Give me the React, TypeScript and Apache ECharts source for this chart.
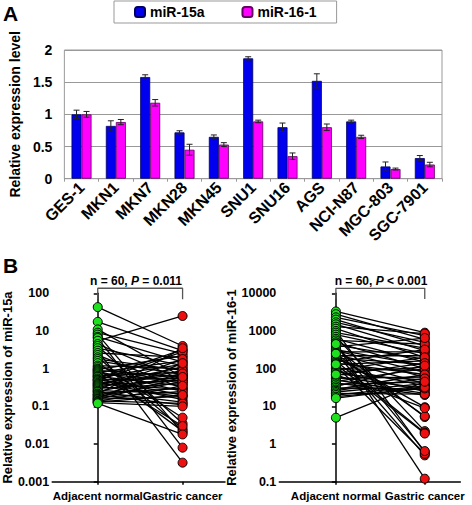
import React, { useEffect, useRef } from "react";
import * as echarts from "echarts";

const cellLines = ["GES-1", "MKN1", "MKN7", "MKN28", "MKN45", "SNU1", "SNU16", "AGS", "NCI-N87", "MGC-803", "SGC-7901"];
const miR15a = [1.0, 0.82, 1.58, 0.72, 0.65, 1.87, 0.8, 1.52, 0.89, 0.19, 0.32];
const miR15aErr = [0.065, 0.08, 0.035, 0.025, 0.03, 0.025, 0.065, 0.11, 0.02, 0.07, 0.04];
const miR161 = [1.0, 0.88, 1.18, 0.45, 0.53, 0.89, 0.35, 0.8, 0.65, 0.15, 0.22];
const miR161Err = [0.045, 0.04, 0.05, 0.085, 0.03, 0.02, 0.05, 0.05, 0.025, 0.015, 0.035];

const normal15 = [43, 17.5, 11, 9, 8, 7, 6.5, 5.5, 4.5, 4, 3.5, 3, 2.6, 2.3, 2, 1.8, 1.6, 1.4, 1.2, 1.1, 1.0, 0.95, 0.9, 0.85, 0.8, 0.75, 0.7, 0.65, 0.62, 0.6, 0.55, 0.52, 0.5, 0.48, 0.45, 0.42, 0.4, 0.38, 0.36, 0.34, 0.32, 0.3, 0.28, 0.26, 0.25, 0.24, 0.22, 0.21, 0.2, 0.19, 0.18, 0.17, 0.16, 0.155, 0.15, 0.14, 0.135, 0.13, 0.125, 0.12];
const cancer15 = [4, 3, 0.6, 2.5, 0.02, 1.5, 0.008, 25, 0.5, 0.035, 1.2, 0.0032, 2.0, 0.3, 0.025, 0.9, 0.7, 0.05, 1.0, 0.4, 0.022, 2.2, 0.6, 0.25, 1.6, 0.45, 0.03, 0.8, 0.35, 1.3, 3.2, 0.2, 0.55, 2.8, 0.15, 0.7, 0.28, 1.1, 0.5, 0.18, 0.9, 0.4, 1.8, 0.22, 0.65, 0.13, 0.3, 3.5, 0.11, 0.75, 0.45, 0.25, 1.4, 0.18, 0.6, 0.12, 0.35, 0.2, 0.1, 0.018];

const normal16 = [3300, 2800, 2300, 2000, 1700, 1500, 1300, 1150, 1000, 900, 800, 700, 620, 560, 500, 460, 420, 380, 350, 320, 300, 280, 260, 240, 220, 205, 190, 175, 160, 150, 140, 130, 120, 110, 100, 92, 85, 78, 72, 66, 60, 55, 50, 46, 42, 38, 34, 31, 28, 26, 24, 22, 20, 18, 16.5, 450, 250, 130, 70, 5];
const cancer16 = [900, 600, 750, 400, 500, 300, 850, 200, 0.6, 350, 250, 2.2, 150, 450, 100, 0.12, 180, 650, 5.2, 120, 80, 280, 0.5, 60, 220, 9.5, 130, 40, 2.0, 320, 70, 160, 0.55, 35, 90, 200, 25, 110, 50, 140, 30, 60, 22, 100, 20, 45, 120, 28, 70, 55, 40, 21, 35, 30, 32, 0.65, 5.5, 1.9, 9, 45];

const groupLabels = ["Adjacent normal", "Gastric cancer"];
const FONT = "'Liberation Sans', Arial, sans-serif";

function errorSeries(name: string, values: number[], errs: number[], offset: number) {
  return {
    type: "custom",
    name: name + " err",
    xAxisIndex: 0,
    yAxisIndex: 0,
    z: 5,
    silent: true,
    data: values.map((v, i) => [i, v, errs[i]]),
    renderItem: (params: any, api: any) => {
      const i = api.value(0);
      const v = api.value(1);
      const e = api.value(2);
      const top = api.coord([i, v + e]);
      const bot = api.coord([i, v - e]);
      const x = top[0] + offset;
      const cap = 3;
      const st = { stroke: "#222", lineWidth: 1 };
      return {
        type: "group",
        children: [
          { type: "line", shape: { x1: x, y1: top[1], x2: x, y2: bot[1] }, style: st },
          { type: "line", shape: { x1: x - cap, y1: top[1], x2: x + cap, y2: top[1] }, style: st },
          { type: "line", shape: { x1: x - cap, y1: bot[1], x2: x + cap, y2: bot[1] }, style: st },
        ],
      };
    },
  };
}

function groupAxis(grid: number, xmin: number, xmax: number, which: number, main: boolean) {
  return {
    type: "value",
    gridIndex: grid,
    position: "bottom",
    min: xmin,
    max: xmax,
    splitLine: { show: false },
    axisLine: { show: main, lineStyle: { color: "#000", width: 1.5 } },
    axisTick: { show: main, customValues: [0, 1], length: 3, lineStyle: { color: "#000", width: 1.5 } },
    axisLabel: {
      customValues: [which],
      showMinLabel: true,
      showMaxLabel: true,
      formatter: (v: number) => groupLabels[Math.round(v)],
      fontFamily: FONT,
      fontWeight: "bold",
      fontSize: 11.5,
      color: "#000",
      margin: 8,
    },
  };
}

function logAxis(grid: number, ymin: number, ymax: number, title: string, gap: number) {
  return {
    type: "log",
    logBase: 10,
    gridIndex: grid,
    min: ymin,
    max: ymax,
    splitLine: { show: false },
    minorTick: { show: false },
    axisLine: { show: true, lineStyle: { color: "#000", width: 1.5 } },
    axisTick: { show: true, length: 4, lineStyle: { color: "#000", width: 1.5 } },
    axisLabel: {
      fontFamily: FONT,
      fontWeight: "bold",
      fontSize: 12.5,
      color: "#000",
      margin: 3,
      formatter: (v: number) => String(Number(v.toPrecision(6))),
    },
    name: title,
    nameLocation: "middle",
    nameGap: gap,
    nameTextStyle: { fontFamily: FONT, fontWeight: "bold", fontSize: 13, color: "#000" },
  };
}

function pairedSeries(axisIndex: number, normal: number[], cancer: number[], bracketLow: number, bracketHigh: number) {
  const lines = normal.map((n, i) => ({
    type: "line",
    xAxisIndex: axisIndex,
    yAxisIndex: axisIndex,
    data: [[0, n], [1, cancer[i]]],
    symbol: "none",
    silent: true,
    lineStyle: { color: "#000", width: 1.3 },
    z: 2,
  }));
  const dots = [
    {
      type: "scatter",
      xAxisIndex: axisIndex,
      yAxisIndex: axisIndex,
      data: normal.map((n) => [0, n]),
      symbolSize: 9,
      itemStyle: { color: "#1ee01e", borderColor: "#000", borderWidth: 1, opacity: 1 },
      z: 3,
    },
    {
      type: "scatter",
      xAxisIndex: axisIndex,
      yAxisIndex: axisIndex,
      data: cancer.map((c) => [1, c]),
      symbolSize: 9,
      itemStyle: { color: "#ee1010", borderColor: "#000", borderWidth: 1, opacity: 1 },
      z: 3,
    },
    {
      type: "line",
      xAxisIndex: axisIndex,
      yAxisIndex: axisIndex,
      data: [[0, bracketLow], [0, bracketHigh], [1, bracketHigh], [1, bracketLow]],
      symbol: "none",
      clip: false,
      silent: true,
      lineStyle: { color: "#555", width: 1.3 },
      z: 2,
    },
  ];
  return [...lines, ...dots];
}

export default function App() {
  const ref = useRef<HTMLDivElement>(null);
  useEffect(() => {
    if (!ref.current) return;
    const chart = echarts.init(ref.current, null, { renderer: "svg" });
    const LX = [-0.537, 1.5];
    const RX = [-0.637, 1.4];
    const option: any = {
      animation: false,
      backgroundColor: "#fff",
      textStyle: { fontFamily: FONT },
      legend: {
        data: ["miR-15a", "miR-16-1"],
        left: 114,
        top: 1,
        padding: [4, 20, 4, 20],
        borderColor: "#999",
        borderWidth: 1,
        itemWidth: 10,
        itemHeight: 10,
        itemGap: 37,
        textStyle: { fontFamily: FONT, fontWeight: "bold", fontSize: 14, color: "#000" },
      },
      grid: [
        { left: 53, top: 50, width: 389, height: 128.7, show: true, borderColor: "#999", borderWidth: 1, backgroundColor: "transparent" },
        { left: 44, top: 293.3, width: 181, height: 188.4 },
        { left: 279.3, top: 293.3, width: 181, height: 188.4 },
      ],
      xAxis: [
        {
          type: "category",
          gridIndex: 0,
          data: cellLines,
          axisLine: { show: true, lineStyle: { color: "#999" } },
          axisTick: { show: true, length: 3, lineStyle: { color: "#999" } },
          axisLabel: { rotate: 45, interval: 0, fontFamily: FONT, fontWeight: "bold", fontSize: 16, color: "#000", margin: 6 },
        },
        groupAxis(1, LX[0], LX[1], 0, true),
        groupAxis(2, RX[0], RX[1], 0, true),
        groupAxis(1, LX[0], LX[1], 1, false),
        groupAxis(2, RX[0], RX[1], 1, false),
      ],
      yAxis: [
        {
          type: "value",
          gridIndex: 0,
          min: 0,
          max: 2,
          interval: 0.5,
          axisLine: { show: false },
          axisTick: { show: false },
          splitLine: { lineStyle: { color: "#999" } },
          axisLabel: { fontFamily: FONT, fontWeight: "bold", fontSize: 14, color: "#000", margin: 12 },
          name: "Relative expression level",
          nameLocation: "middle",
          nameGap: 32,
          nameTextStyle: { fontFamily: FONT, fontWeight: "bold", fontSize: 14, color: "#000" },
        },
        logAxis(1, 0.001, 100, "Relative expression of miR-15a", 28),
        logAxis(2, 0.1, 10000, "Relative expression of miR-16-1", 35),
      ],
      series: [
        {
          type: "bar",
          name: "miR-15a",
          xAxisIndex: 0,
          yAxisIndex: 0,
          data: miR15a,
          barWidth: 10,
          barGap: "0%",
          itemStyle: { color: "#0000ee", borderColor: "#000060", borderWidth: 0.8 },
        },
        {
          type: "bar",
          name: "miR-16-1",
          xAxisIndex: 0,
          yAxisIndex: 0,
          data: miR161,
          barWidth: 10,
          barGap: "0%",
          itemStyle: { color: "#ff00ff", borderColor: "#600060", borderWidth: 0.8 },
        },
        errorSeries("miR-15a", miR15a, miR15aErr, -5),
        errorSeries("miR-16-1", miR161, miR161Err, 5),
        ...pairedSeries(1, normal15, cancer15, 70, 136),
        ...pairedSeries(2, normal16, cancer16, 7060, 13570),
      ],
      graphic: [
        { type: "text", left: 3, top: 3, style: { text: "A", font: `bold 21px ${FONT}`, fill: "#000" } },
        { type: "text", left: 3, top: 255, style: { text: "B", font: `bold 21px ${FONT}`, fill: "#000" } },
        {
          type: "text",
          x: 136,
          y: 281,
          style: {
            text: "{a|n = 60, }{b|P}{a| = 0.011}",
            align: "center",
            verticalAlign: "middle",
            rich: {
              a: { fontFamily: FONT, fontWeight: "bold", fontSize: 12, fill: "#000" },
              b: { fontFamily: FONT, fontWeight: "bold", fontStyle: "italic", fontSize: 12, fill: "#000" },
            },
          },
        },
        {
          type: "text",
          x: 381,
          y: 281,
          style: {
            text: "{a|n = 60, }{b|P}{a| < 0.001}",
            align: "center",
            verticalAlign: "middle",
            rich: {
              a: { fontFamily: FONT, fontWeight: "bold", fontSize: 12, fill: "#000" },
              b: { fontFamily: FONT, fontWeight: "bold", fontStyle: "italic", fontSize: 12, fill: "#000" },
            },
          },
        },
      ],
    };
    chart.setOption(option);
    return () => chart.dispose();
  }, []);
  return <div ref={ref} style={{ position: "fixed", left: 0, top: 0, width: 472, height: 505, background: "#fff" }} />;
}
